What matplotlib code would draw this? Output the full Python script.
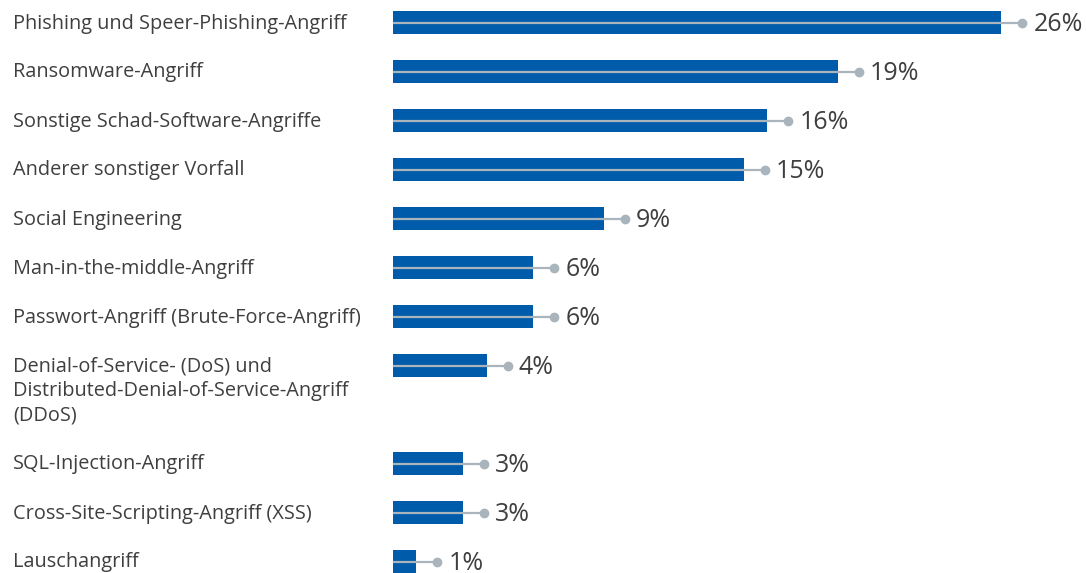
import matplotlib.pyplot as plt

categories = [
    'Phishing und Speer-Phishing-Angriff',
    'Ransomware-Angriff',
    'Sonstige Schad-Software-Angriffe',
    'Anderer sonstiger Vorfall',
    'Social Engineering',
    'Man-in-the-middle-Angriff',
    'Passwort-Angriff (Brute-Force-Angriff)',
    'Denial-of-Service- (DoS) und\nDistributed-Denial-of-Service-Angriff\n(DDoS)',
    'SQL-Injection-Angriff',
    'Cross-Site-Scripting-Angriff (XSS)',
    'Lauschangriff',
]
values = [26, 19, 16, 15, 9, 6, 6, 4, 3, 3, 1]
# the three-line label takes up two rows
rows = [0, 1, 2, 3, 4, 5, 6, 7, 9, 10, 11]

bar_color = '#005BAA'
line_color = '#A9B4BC'
text_color = '#3f3f3f'

plt.rcParams['font.family'] = ['Open Sans', 'DejaVu Sans']

fig = plt.figure(figsize=(10.86, 5.73), dpi=100)
ax = fig.add_axes([393 / 1086, 0, 1 - 393 / 1086, 1])

px = 23.4  # pixels per percent
ax.set_xlim(0, 693 / px)
ax.set_ylim((573 - 22.5) / 49, -22.5 / 49)
ax.axis('off')

ext = 21 / px
for r, v, lab in zip(rows, values, categories):
    ax.barh(r, v, height=23 / 49, color=bar_color, zorder=1)
    ax.plot([0, v + ext], [r, r], color=line_color, lw=1.6, zorder=2,
            solid_capstyle='butt')
    ax.plot(v + ext, r, 'o', color=line_color, ms=6, zorder=3)
    ax.text(v + ext + 11 / px, r + 2 / 49, f'{v}%', va='center', ha='left',
            fontsize=18, color=text_color)
    # each line of a label is set separately, 24.5 px apart
    for i, part in enumerate(lab.split('\n')):
        y = 22.5 + 49 * r + 24.5 * i + 1
        ax.text(13 / 1086, 1 - y / 573, part, transform=fig.transFigure,
                va='center', ha='left', fontsize=14.3, color=text_color)

fig.savefig('out.png', dpi=100)
